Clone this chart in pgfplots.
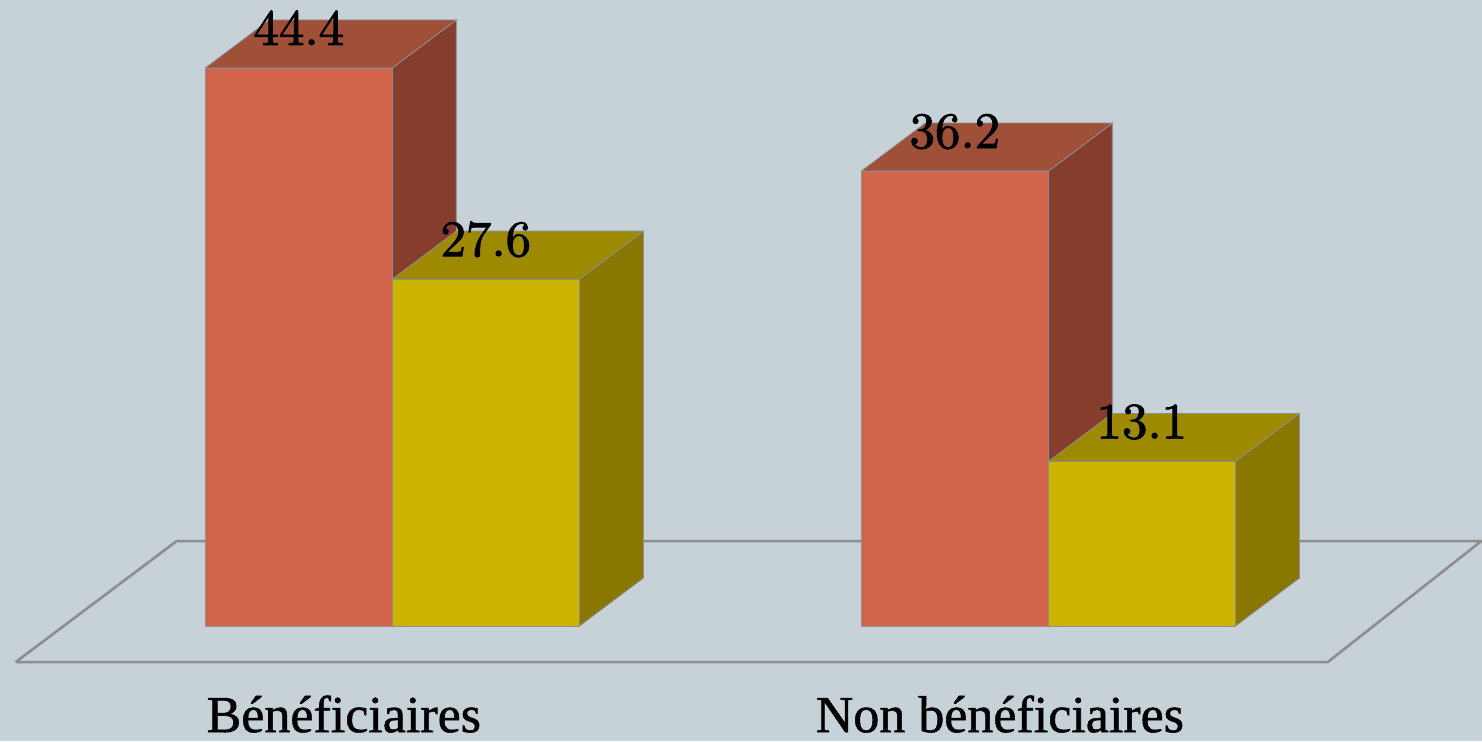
\documentclass[border=0pt]{standalone}
\usepackage{fontspec}
\setmainfont{Liberation Serif}
\newfontfamily\catfont[FakeBold=1]{Liberation Serif}
\usepackage{pgfplots}
\pgfplotsset{compat=1.18}

\definecolor{bgc}{HTML}{C6D1D8}
\definecolor{orfront}{HTML}{D1644A}
\definecolor{orside}{HTML}{863D2E}
\definecolor{ortop}{HTML}{A04F38}
\definecolor{yefront}{HTML}{CCB400}
\definecolor{yeside}{HTML}{887700}
\definecolor{yetop}{HTML}{9E8A00}
\definecolor{edge}{HTML}{8E8E8E}

% value labels: Computer Modern digits at a large size, stroked a little heavier
\font\labfont=cmr10 at 51pt
\newcommand{\heavy}[1]{\special{pdf:code 2 Tr 0.9 w}#1\special{pdf:code 0 Tr 1 w}}

\pgfplotsset{
	vlabel/.style={
		nodes near coords={\labfont\heavy{\pgfmathprintnumber[assume math mode=true,fixed,precision=1,zerofill]{\pgfplotspointmeta}}},
		nodes near coords style={anchor=base,yshift=23pt,xshift=#1,text=black},
	},
}

\begin{document}
\begin{tikzpicture}
\begin{axis}[
	scale only axis,
	width=1482pt,height=741pt,
	xmin=-0.598,xmax=1.661,
	ymin=-9.149,ymax=49.80,
	axis background/.style={fill=bgc},
	axis line style={draw=none},
	major tick length=0pt,
	xtick={0,1},
	xticklabels={Bénéficiaires,Non bénéficiaires},
	ytick=\empty,
	xticklabel style={font=\catfont\fontsize{52}{52}\selectfont,anchor=base,xshift=-48.5pt,yshift=9pt},
	clip=true,
]
% floor
\addplot[draw=edge,line width=2.6pt,fill=none] coordinates {(-0.5742,-2.864) (-0.3287,6.762) (1.66,6.762) (1.4258,-2.864) (-0.5742,-2.864)};

% orange, first group
\addplot[fill=orside,draw=edge,line width=0.8pt] coordinates {(0,0) (0.0976,3.82) (0.0976,48.22) (0,44.4) (0,0)};
\addplot[fill=ortop,draw=edge,line width=0.8pt] coordinates {(-0.2851,44.4) (-0.1875,48.22) (0.0976,48.22) (0,44.4) (-0.2851,44.4)};
% orange, second group
\addplot[fill=orside,draw=edge,line width=0.8pt] coordinates {(1,0) (1.0976,3.82) (1.0976,40.02) (1,36.2) (1,0)};
\addplot[fill=ortop,draw=edge,line width=0.8pt] coordinates {(0.7149,36.2) (0.8125,40.02) (1.0976,40.02) (1,36.2) (0.7149,36.2)};
% orange fronts
\addplot[ybar,bar width=187pt,bar shift=-93.5pt,fill=orfront,draw=edge,line width=0.8pt,vlabel=-93.5pt] coordinates {(0,44.4) (1,36.2)};

% yellow, first group
\addplot[fill=yeside,draw=edge,line width=0.8pt] coordinates {(0.2851,0) (0.3827,3.82) (0.3827,31.42) (0.2851,27.6) (0.2851,0)};
\addplot[fill=yetop,draw=edge,line width=0.8pt] coordinates {(0,27.6) (0.0976,31.42) (0.3827,31.42) (0.2851,27.6) (0,27.6)};
% yellow, second group
\addplot[fill=yeside,draw=edge,line width=0.8pt] coordinates {(1.2851,0) (1.3827,3.82) (1.3827,16.92) (1.2851,13.1) (1.2851,0)};
\addplot[fill=yetop,draw=edge,line width=0.8pt] coordinates {(1,13.1) (1.0976,16.92) (1.3827,16.92) (1.2851,13.1) (1,13.1)};
% yellow fronts
\addplot[ybar,bar width=187pt,bar shift=93.5pt,fill=yefront,draw=edge,line width=0.8pt,vlabel=93.5pt] coordinates {(0,27.6) (1,13.1)};
\end{axis}
\end{tikzpicture}
\end{document}
